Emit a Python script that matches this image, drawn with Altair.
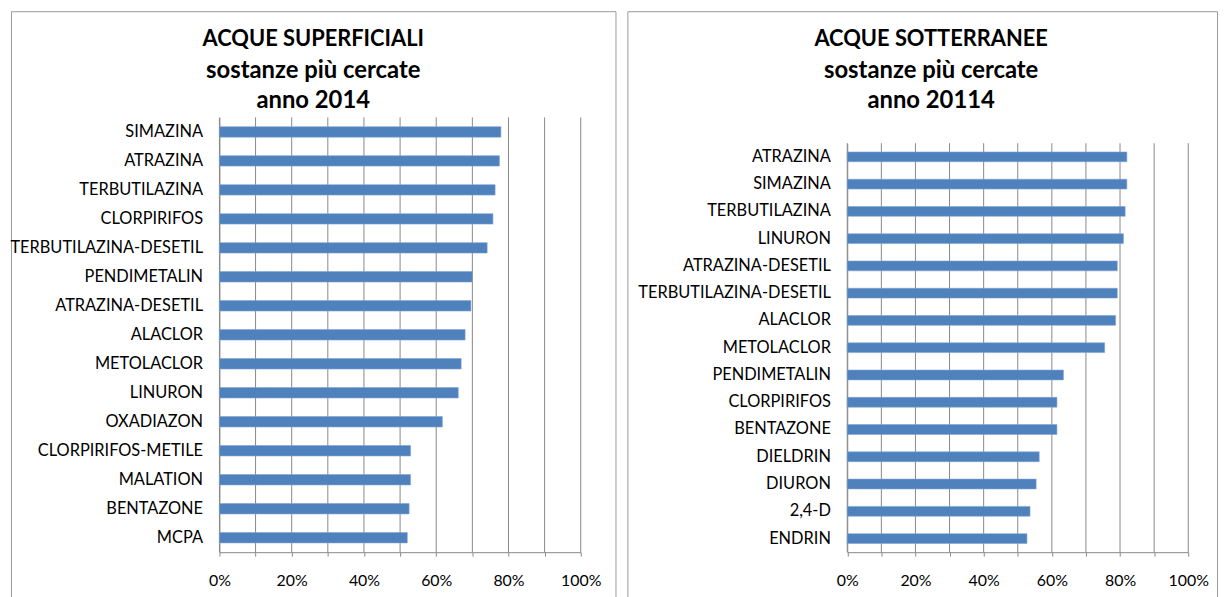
import altair as alt
import pandas as pd

# ---- data ----
left_names = ["SIMAZINA", "ATRAZINA", "TERBUTILAZINA", "CLORPIRIFOS",
              "TERBUTILAZINA-DESETIL", "PENDIMETALIN", "ATRAZINA-DESETIL",
              "ALACLOR", "METOLACLOR", "LINURON", "OXADIAZON",
              "CLORPIRIFOS-METILE", "MALATION", "BENTAZONE", "MCPA"]
left_values = [0.779, 0.775, 0.763, 0.757, 0.741, 0.700, 0.696, 0.680,
               0.669, 0.661, 0.617, 0.529, 0.529, 0.525, 0.520]

right_names = ["ATRAZINA", "SIMAZINA", "TERBUTILAZINA", "LINURON",
               "ATRAZINA-DESETIL", "TERBUTILAZINA-DESETIL", "ALACLOR",
               "METOLACLOR", "PENDIMETALIN", "CLORPIRIFOS", "BENTAZONE",
               "DIELDRIN", "DIURON", "2,4-D", "ENDRIN"]
right_values = [0.820, 0.820, 0.815, 0.810, 0.792, 0.792, 0.787, 0.755,
                0.634, 0.615, 0.615, 0.563, 0.554, 0.536, 0.527]

left_title = "ACQUE SUPERFICIALI"
left_subtitle = ["sostanze più cercate", "anno 2014"]
right_title = "ACQUE SOTTERRANEE"
right_subtitle = ["sostanze più cercate", "anno 20114"]

pct_ticks = [0, 0.1, 0.2, 0.3, 0.4, 0.5, 0.6, 0.7, 0.8, 0.9, 1.0]

FONT = "Lato"
GRID = "#888888"
BAR = "#4F81BD"


def panel(names, values, title, subtitle, pw, ph, xr, yr, dx):
    df = pd.DataFrame({"sostanza": names, "quota": values})
    grid_df = pd.DataFrame({"quota": pct_ticks})
    xscale = alt.Scale(domain=[0, 1], range=xr, nice=False)

    grid = alt.Chart(grid_df).mark_rule(color=GRID, strokeWidth=1).encode(
        x=alt.X("quota:Q", scale=xscale),
        y=alt.value(yr[0]),
        y2=alt.value(yr[1]),
    )

    bars = alt.Chart(df).mark_bar(color=BAR, stroke="#7FA3D3",
                                  strokeWidth=0.6).encode(
        x=alt.X(
            "quota:Q",
            scale=xscale,
            axis=alt.Axis(
                values=pct_ticks, format="%",
                labelExpr="round(datum.value*10) % 2 == 0 ? datum.label : ''",
                labelFlush=False, labelOverlap=False,
                grid=False, domainColor=GRID, tickColor=GRID, tickSize=4,
                labelPadding=17, offset=-(ph - yr[1]), title=None,
                labelFont=FONT, labelFontSize=16, labelColor="#000000",
            ),
        ),
        y=alt.Y(
            "sostanza:N", sort=names,
            scale=alt.Scale(range=yr, paddingInner=0.64, paddingOuter=0.32),
            axis=alt.Axis(
                ticks=False, domainColor=GRID, offset=-xr[0], labelPadding=17,
                title=None, labelFont=FONT, labelFontSize=16.5,
                labelColor="#000000", labelLimit=300,
            ),
        ),
    )

    return alt.layer(grid, bars).properties(
        width=pw, height=ph,
        title=alt.TitleParams(
            text=title, subtitle=subtitle,
            anchor="middle", frame="group", orient="top",
            offset=-104, dx=dx,
            font=FONT, fontSize=22, fontWeight="bold", color="#000000",
            subtitleFont=FONT, subtitleFontSize=24, subtitleFontWeight="bold",
            subtitleColor="#000000", subtitleLineHeight=31,
            subtitlePadding=8,
        ),
    )


left = panel(left_names, left_values, left_title, left_subtitle, 609, 600,
             [210, 574], [107, 545], 0)
right = panel(right_names, right_values, right_title, right_subtitle, 594, 600,
              [221.5, 565], [133, 545], 9)

chart = alt.hconcat(left, right, spacing=10).properties(
    padding={"left": 1, "top": 0, "right": 0, "bottom": 0}
).configure_view(
    stroke="#9a9a9a", strokeWidth=1
)

chart.save("out.html", embed_options={"renderer": "svg", "actions": False})
